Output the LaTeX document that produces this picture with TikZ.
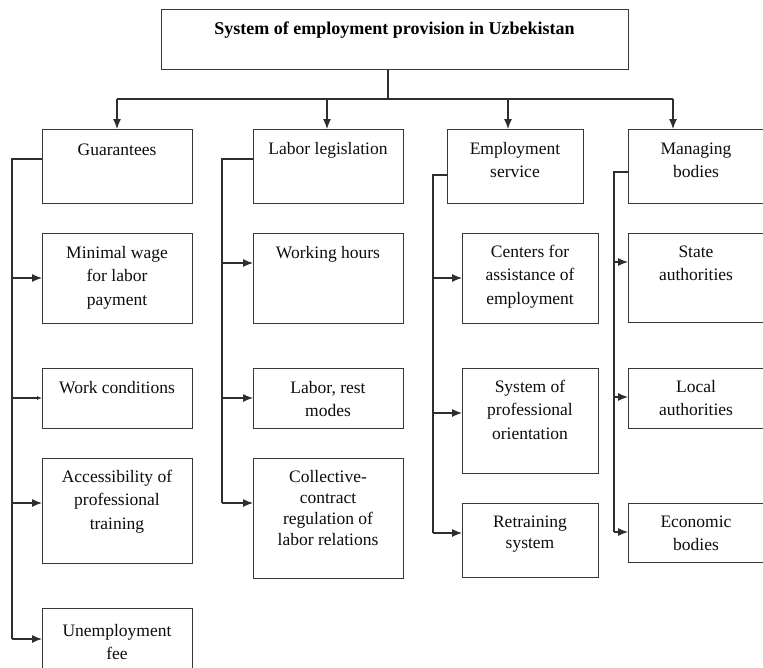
\documentclass[tikz,border=0pt]{standalone}
\usepackage{fontspec}
\setmainfont{Liberation Serif}
\usetikzlibrary{arrows.meta}
\newcommand\mybox[5]{\node[box,minimum width=#4pt,minimum height=#5pt] (#1) at (#2,#3) {};}
\begin{document}
\begin{tikzpicture}[x=1pt,y=-1pt,
  box/.style={draw=black!78,line width=1.1pt,inner sep=0pt,anchor=north west},
  txt/.style={anchor=north,inner sep=0pt,align=center,text=black!95,font=\fontsize{17.5}{23.5}\selectfont},
  txtb/.style={txt,font=\fontsize{17.5}{21}\selectfont},
  ttl/.style={anchor=north,inner sep=0pt,text=black,font=\bfseries\fontsize{18}{24}\selectfont},
  ln/.style={draw=black!82,line width=1.2pt},
  arr/.style={ln,-{Latex[length=10pt,width=8pt]}},
  arrs/.style={ln,-{Latex[length=5pt,width=4pt]}}]
\useasboundingbox (0,0) rectangle (763,667);
\fill[white] (0,0) rectangle (763,667);
\clip (0,0) rectangle (763,667);

% top
\mybox{top}{161}{9}{467}{60}
\node[ttl] (top-t) at (394.5,17.2) {\strut System of employment provision in Uzbekistan};

% row 1
\mybox{g}{42}{129}{150}{74}
\mybox{l}{253}{129}{150}{74}
\mybox{e}{447}{129}{136}{74}
\mybox{m}{628}{129}{137}{74}
\node[txt] (g-t) at (117,138.5) {\strut Guarantees};
\node[txt] (l-t) at (328,137.5) {\strut Labor legislation};
\node[txt] (e-t) at (515,137.5) {\strut Employment\\service};
\node[txt] (m-t) at (696,137.5) {\strut Managing\\bodies};

% column 1
\mybox{mw}{42}{233}{150}{90}
\mybox{wc}{42}{368}{150}{60}
\mybox{ac}{42}{458}{150}{105}
\mybox{uf}{42}{608}{150}{80}
\node[txt] (mw-t) at (117,241.5) {\strut Minimal wage\\for labor\\payment};
\node[txt] (wc-t) at (117,376.5) {\strut Work conditions};
\node[txt] (ac-t) at (117,465.5) {\strut Accessibility of\\professional\\training};
\node[txt] (uf-t) at (117,619.5) {\strut Unemployment\\fee};

% column 2
\mybox{wh}{253}{233}{150}{90}
\mybox{lr}{253}{368}{150}{60}
\mybox{cc}{253}{458}{150}{120}
\node[txt] (wh-t) at (328,241.5) {\strut Working hours};
\node[txt] (lr-t) at (328,376.5) {\strut Labor, rest\\modes};
\node[txtb] (cc-t) at (328,467.3) {\strut Collective-\\contract\\regulation of\\labor relations};

% column 3
\mybox{ca}{462}{233}{136}{90}
\mybox{so}{462}{368}{136}{105}
\mybox{rs}{462}{503}{136}{74}
\node[txt] (ca-t) at (530,240.5) {\strut Centers for\\assistance of\\employment};
\node[txt] (so-t) at (530,375.5) {\strut System of\\professional\\orientation};
\node[txtb] (rs-t) at (530,512.3) {\strut Retraining\\system};

% column 4
\mybox{sa}{628}{233}{137}{89}
\mybox{la}{628}{368}{137}{60}
\mybox{eb}{628}{503}{137}{59}
\node[txt] (sa-t) at (696,240.5) {\strut State\\authorities};
\node[txt] (la-t) at (696,375.5) {\strut Local\\authorities};
\node[txt] (eb-t) at (696,510.5) {\strut Economic\\bodies};

% top connectors
\coordinate (t0) at (388,69);
\coordinate (tj) at (388,99);
\coordinate (j1) at (117,99);
\coordinate (j2) at (327,99);
\coordinate (j3) at (508,99);
\coordinate (j4) at (673,99);
\draw[ln] (t0) -- (tj);
\draw[ln] (j1) -- (j4);
\draw[arr] (j1) -- (j1 |- g.north);
\draw[arr] (j2) -- (j2 |- l.north);
\draw[arr] (j3) -- (j3 |- e.north);
\draw[arr] (j4) -- (j4 |- m.north);

% column 1 branch
\coordinate (a1) at (12,159);
\coordinate (a1e) at (12,639);
\draw[ln] (g.west |- a1) -- (a1) -- (a1e);
\draw[arr] (12,278) -- (mw.west |- 0,278);
\draw[arrs] (12,398) -- (wc.west |- 0,398);
\draw[arr] (12,503) -- (ac.west |- 0,503);
\draw[arr] (a1e) -- (uf.west |- a1e);

% column 2 branch
\coordinate (a2) at (222,159);
\coordinate (a2e) at (222,503);
\draw[ln] (l.west |- a2) -- (a2) -- (a2e);
\draw[arr] (222,263) -- (wh.west |- 0,263);
\draw[arr] (222,398) -- (lr.west |- 0,398);
\draw[arr] (a2e) -- (cc.west |- a2e);

% column 3 branch
\coordinate (a3) at (433,175);
\coordinate (a3e) at (433,533);
\draw[ln] (e.west |- a3) -- (a3) -- (a3e);
\draw[arr] (433,278) -- (ca.west |- 0,278);
\draw[arr] (433,413) -- (so.west |- 0,413);
\draw[arr] (a3e) -- (rs.west |- a3e);

% column 4 branch
\coordinate (a4) at (614,172);
\coordinate (a4e) at (614,532);
\draw[ln] (m.west |- a4) -- (a4) -- (a4e);
\draw[arr] (614,262) -- (sa.west |- 0,262);
\draw[arr] (614,397) -- (la.west |- 0,397);
\draw[arr] (a4e) -- (eb.west |- a4e);
\end{tikzpicture}
\end{document}
